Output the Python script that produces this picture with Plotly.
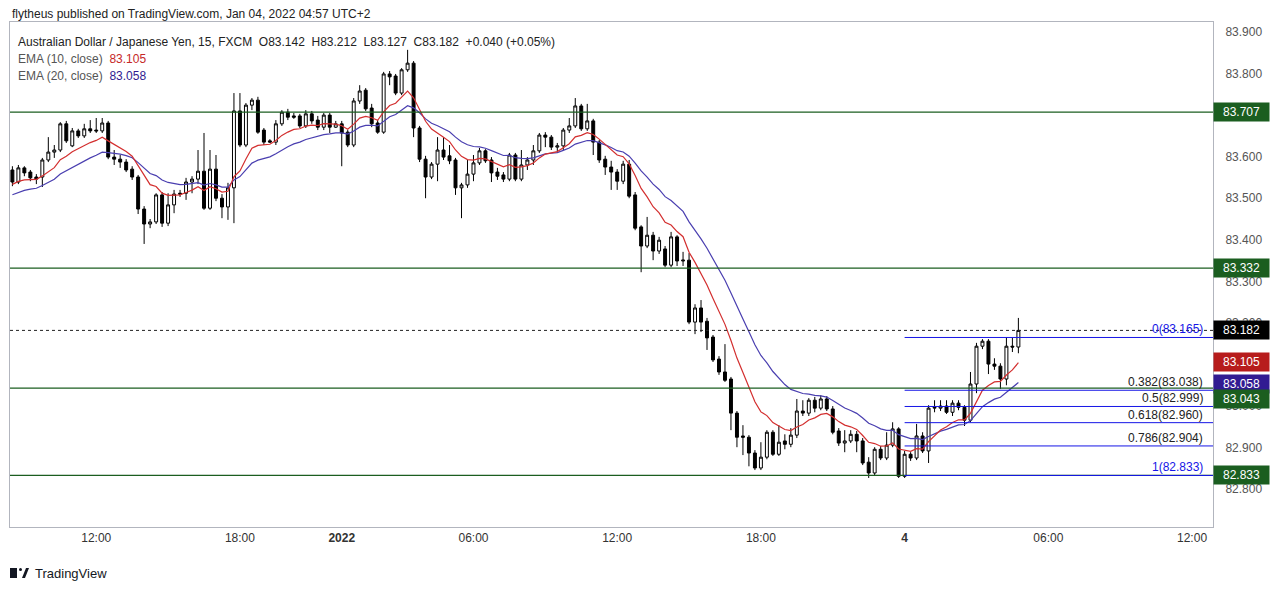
import plotly.graph_objects as go

# ---- data (AUD/JPY 15m, FXCM) ----
opens = [83.568,83.539,83.573,83.563,83.551,83.551,83.592,83.611,83.616,83.679,83.626,83.662,83.650,83.667,83.664,83.662,83.681,83.599,83.594,83.587,
83.570,83.551,83.474,83.438,83.443,83.508,83.440,83.484,83.512,83.512,83.539,83.546,83.565,83.476,83.570,83.500,83.479,83.525,83.710,83.628,
83.724,83.736,83.664,83.638,83.635,83.679,83.707,83.698,83.698,83.674,83.703,83.688,83.671,83.700,83.671,83.679,83.659,83.628,83.734,83.760,
83.717,83.681,83.659,83.799,83.794,83.753,83.809,83.825,83.669,83.594,83.551,83.582,83.616,83.602,83.592,83.525,83.532,83.558,83.585,83.614,
83.592,83.563,83.556,83.546,83.604,83.546,83.580,83.592,83.614,83.652,83.647,83.623,83.626,83.664,83.674,83.722,83.667,83.686,83.635,83.594,
83.575,83.563,83.541,83.582,83.508,83.431,83.385,83.411,83.373,83.378,83.339,83.407,83.349,83.351,83.202,83.236,83.204,83.166,83.113,83.082,
83.065,82.983,82.928,82.925,82.887,82.851,82.877,82.937,82.884,82.916,82.908,82.930,82.988,82.983,83.014,82.995,83.017,82.993,82.940,82.911,
82.916,82.932,82.916,82.865,82.839,82.896,82.875,82.906,82.945,82.831,82.884,82.875,82.928,82.892,82.995,82.995,83.000,82.985,83.007,82.997,
82.966,83.053,83.144,83.156,83.101,83.096,83.065,83.144,83.142]
highs = [83.577,83.580,83.577,83.568,83.558,83.597,83.647,83.628,83.683,83.686,83.669,83.667,83.679,83.688,83.693,83.693,83.686,83.616,83.604,83.594,
83.577,83.556,83.481,83.450,83.512,83.515,83.512,83.520,83.520,83.549,83.553,83.616,83.657,83.616,83.604,83.510,83.537,83.753,83.753,83.729,
83.741,83.744,83.669,83.642,83.688,83.712,83.715,83.705,83.703,83.712,83.710,83.698,83.705,83.705,83.686,83.686,83.664,83.741,83.772,83.765,
83.727,83.688,83.804,83.806,83.799,83.813,83.857,83.830,83.674,83.602,83.587,83.647,83.647,83.628,83.597,83.537,83.592,83.604,83.621,83.618,
83.599,83.573,83.563,83.609,83.609,83.616,83.599,83.628,83.657,83.659,83.652,83.633,83.669,83.693,83.741,83.727,83.727,83.691,83.640,83.602,
83.590,83.570,83.590,83.592,83.515,83.435,83.455,83.419,83.407,83.385,83.419,83.411,83.371,83.368,83.245,83.255,83.212,83.171,83.120,83.149,
83.070,82.988,82.954,82.930,82.894,82.913,82.942,82.942,82.954,82.932,82.947,83.017,83.014,83.019,83.022,83.026,83.024,83.000,82.947,82.942,
82.942,82.940,82.923,82.877,82.901,82.904,82.937,82.961,82.949,82.892,82.889,82.957,82.937,83.002,83.014,83.014,83.014,83.014,83.014,83.002,
83.082,83.152,83.161,83.161,83.115,83.103,83.166,83.164,83.212]
lows = [83.529,83.534,83.553,83.541,83.534,83.527,83.587,83.597,83.611,83.633,83.623,83.645,83.645,83.657,83.657,83.657,83.594,83.580,83.573,83.563,
83.544,83.462,83.390,83.428,83.438,83.431,83.433,83.464,83.503,83.496,83.512,83.534,83.472,83.472,83.493,83.452,83.448,83.440,83.623,83.623,
83.712,83.655,83.628,83.633,83.628,83.674,83.688,83.691,83.669,83.669,83.679,83.664,83.664,83.657,83.669,83.577,83.623,83.623,83.727,83.710,
83.671,83.655,83.655,83.772,83.748,83.748,83.804,83.647,83.587,83.500,83.546,83.541,83.592,83.582,83.508,83.452,83.525,83.541,83.580,83.585,
83.539,83.544,83.539,83.541,83.541,83.541,83.568,83.580,83.609,83.623,83.616,83.609,83.616,83.657,83.669,83.662,83.662,83.604,83.585,83.556,
83.520,83.520,83.534,83.500,83.423,83.322,83.380,83.351,83.366,83.334,83.334,83.337,83.337,83.197,83.173,83.178,83.135,83.106,83.075,83.058,
82.942,82.901,82.882,82.855,82.846,82.846,82.872,82.880,82.880,82.896,82.901,82.923,82.976,82.976,82.985,82.990,82.988,82.932,82.904,82.889,
82.911,82.889,82.858,82.827,82.834,82.870,82.870,82.901,82.827,82.827,82.868,82.870,82.887,82.863,82.985,82.988,82.981,82.976,82.990,82.952,
82.961,83.031,83.137,83.077,83.087,83.041,83.050,83.130,83.127]
closes = [83.539,83.573,83.561,83.549,83.546,83.592,83.611,83.616,83.679,83.638,83.662,83.650,83.667,83.662,83.662,83.681,83.599,83.594,83.587,83.568,
83.551,83.474,83.438,83.443,83.508,83.440,83.484,83.510,83.510,83.539,83.546,83.565,83.476,83.570,83.500,83.479,83.525,83.710,83.628,83.724,
83.736,83.659,83.635,83.635,83.679,83.707,83.695,83.695,83.674,83.703,83.686,83.671,83.700,83.671,83.679,83.657,83.628,83.734,83.758,83.715,
83.679,83.659,83.799,83.792,83.753,83.809,83.825,83.669,83.594,83.551,83.582,83.616,83.599,83.590,83.525,83.532,83.558,83.585,83.614,83.590,
83.561,83.553,83.546,83.604,83.546,83.580,83.592,83.614,83.652,83.647,83.623,83.626,83.664,83.674,83.722,83.667,83.686,83.635,83.592,83.575,
83.563,83.541,83.582,83.505,83.428,83.385,83.411,83.373,83.399,83.339,83.407,83.349,83.351,83.202,83.236,83.202,83.164,83.111,83.082,83.062,
82.983,82.925,82.925,82.887,82.851,82.877,82.937,82.884,82.913,82.908,82.930,82.988,82.983,83.014,82.995,83.017,82.993,82.937,82.911,82.916,
82.932,82.916,82.863,82.839,82.896,82.875,82.906,82.945,82.831,82.884,82.875,82.928,82.892,82.995,82.997,83.000,82.985,83.007,82.997,82.966,
83.053,83.144,83.156,83.101,83.096,83.065,83.144,83.142,83.182]
ema10_seed = 83.532
ema20_seed = 83.505

tick_idx = [14, 38, 55, 77, 101, 125, 149, 173, 197]
tick_text = ["12:00", "18:00", "<b>2022</b>", "06:00", "12:00", "18:00", "<b>4</b>", "06:00", "12:00"]
y_ticks = [82.8, 82.9, 83.0, 83.1, 83.2, 83.3, 83.4, 83.5, 83.6, 83.7, 83.8, 83.9]

levels = [83.707, 83.332, 83.043, 82.833]
fib_ratio = ["0", "0.382", "0.5", "0.618", "0.786", "1"]
fib_price = [83.165, 83.038, 82.999, 82.960, 82.904, 82.833]
fib_start = 149
last_price = 83.182

# ---- EMAs ----
def ema(vals, n, seed):
    a = 2 / (n + 1)
    out, e = [], seed
    for v in vals:
        e = a * v + (1 - a) * e
        out.append(e)
    return out

e10 = ema(closes, 10, ema10_seed)
e20 = ema(closes, 20, ema20_seed)
idx = list(range(len(closes)))

FONT = "Liberation Sans, Arial, sans-serif"
GREEN = "#1b5e20"
BLUE = "#1515e6"

fig = go.Figure()
fig.add_trace(go.Scatter(x=idx, y=e20, mode="lines", line=dict(color="#4a3fb0", width=1.2), hoverinfo="skip"))
fig.add_trace(go.Scatter(x=idx, y=e10, mode="lines", line=dict(color="#d32f2f", width=1.2), hoverinfo="skip"))
fig.add_trace(go.Candlestick(
    x=idx, open=opens, high=highs, low=lows, close=closes,
    increasing=dict(line=dict(color="black", width=1), fillcolor="white"),
    decreasing=dict(line=dict(color="black", width=1), fillcolor="black"),
    whiskerwidth=0, showlegend=False))

shapes = []
for lv in levels:
    shapes.append(dict(type="line", xref="paper", x0=0, x1=1, yref="y", y0=lv, y1=lv,
                       line=dict(color=GREEN, width=1.2)))
shapes.append(dict(type="line", xref="paper", x0=0, x1=1, yref="y", y0=last_price, y1=last_price,
                   line=dict(color="#222", width=1, dash="dot")))
x_end = 200.5
for r, p in zip(fib_ratio, fib_price):
    shapes.append(dict(type="line", xref="x", x0=fib_start, x1=x_end, yref="y", y0=p, y1=p,
                       line=dict(color=BLUE, width=1)))

annotations = []
for r, p in zip(fib_ratio, fib_price):
    col = BLUE if r in ("0", "1") else "#222"
    annotations.append(dict(x=199.2, y=p, xref="x", yref="y", text=f"{r}({p:.3f})", showarrow=False,
                            xanchor="right", yanchor="bottom", yshift=-1, font=dict(size=12, color=col, family=FONT)))

tags = [(83.707, GREEN, 0), (83.332, GREEN, 0), (83.182, "#000000", 0), (83.105, "#b71c1c", 0),
        (83.058, "#311b92", -2), (83.043, GREEN, -11), (82.833, GREEN, 0)]
for p, c, sh in tags:
    annotations.append(dict(x=1, xref="paper", y=p, yref="y", yshift=sh, text=f"{p:.3f}", showarrow=False,
                            xanchor="left", xshift=0, bgcolor=c, borderpad=2, width=51,
                            font=dict(size=12, color="white", family=FONT)))

def px(x): return (x - 10) / 1203
def py(y): return (527 - y) / 505

annotations += [
    dict(x=px(10), y=py(14), xref="paper", yref="paper", xanchor="left", yanchor="middle", showarrow=False,
         text="flytheus published on TradingView.com, Jan 04, 2022 04:57 UTC+2", font=dict(size=12, color="#222", family=FONT)),
    dict(x=px(16), y=py(42), xref="paper", yref="paper", xanchor="left", yanchor="middle", showarrow=False,
         text="Australian Dollar / Japanese Yen, 15, FXCM  O83.142  H83.212  L83.127  C83.182  +0.040 (+0.05%)",
         font=dict(size=12, color="#222", family=FONT)),
    dict(x=px(16), y=py(59), xref="paper", yref="paper", xanchor="left", yanchor="middle", showarrow=False,
         text="EMA (10, close)  <span style='color:#c62828'>83.105</span>", font=dict(size=12, color="#555", family=FONT)),
    dict(x=px(16), y=py(76), xref="paper", yref="paper", xanchor="left", yanchor="middle", showarrow=False,
         text="EMA (20, close)  <span style='color:#311b92'>83.058</span>", font=dict(size=12, color="#555", family=FONT)),
    dict(x=px(33), y=py(573), xref="paper", yref="paper", xanchor="left", yanchor="middle", showarrow=False,
         text="TradingView", font=dict(size=13, color="#131722", family=FONT)),
]
# logo
shapes += [
    dict(type="rect", xref="paper", yref="paper", x0=px(10), x1=px(17), y0=py(578), y1=py(568), fillcolor="#131722", line_width=0),
    dict(type="circle", xref="paper", yref="paper", x0=px(19), x1=px(22), y0=py(571), y1=py(568), fillcolor="#131722", line_width=0),
    dict(type="path", xref="paper", yref="paper",
         path=f"M {px(22)} {py(578)} L {px(26)} {py(568)} L {px(29)} {py(568)} L {px(25)} {py(578)} Z",
         fillcolor="#131722", line_width=0),
]

# page has an 8px body margin: offset margins so the plot lands at 10..1213 x 22..527
fig.update_layout(
    width=1280, height=590, margin=dict(l=2, r=75, t=14, b=71),
    paper_bgcolor="white", plot_bgcolor="white", showlegend=False,
    shapes=shapes, annotations=annotations,
    xaxis=dict(range=[-0.4, x_end], tickvals=tick_idx, ticktext=tick_text, showgrid=False, zeroline=False,
               rangeslider=dict(visible=False), showline=True, linecolor="#b2b5be", mirror=True,
               ticks="", tickfont=dict(size=12, color="#333", family=FONT)),
    yaxis=dict(range=[82.709, 83.924], side="right", tickvals=y_ticks, tickformat=".3f", showgrid=False,
               zeroline=False, showline=True, linecolor="#b2b5be", mirror=True, ticks="",
               ticklabelstandoff=9, tickfont=dict(size=12, color="#555", family=FONT)),
)
fig.write_html("out.html")
